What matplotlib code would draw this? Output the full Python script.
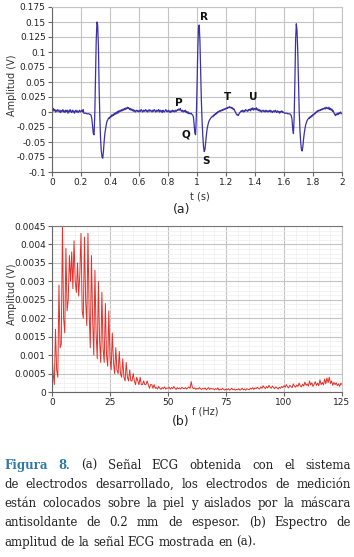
import numpy as np
import matplotlib
matplotlib.use("Agg")
import matplotlib.pyplot as plt
from matplotlib.ticker import MultipleLocator, AutoMinorLocator, FuncFormatter

# ECG signal (a), one value every 5 ms from 0 to 2 s, in mV
ecg_mv = [
    3, 1, 6, 2, 4, 0, 3, 1, 4, 2, 0, 3, -1, 2, 1, 4, 0, 2, -1, 3,
    1, 3, -2, 2, 0, 4, 1, -1, 3, 0, 2, -2, 1, 3, 0, 2, -1, 1, 3, 0,
    1, 3, 0, 4, -2, -2, -2, -2, -3, -3, -3, -3, -4, -4, -6, -12, -25, -36, -38, -5,
    60, 120, 150, 145, 110, 40, -10, -45, -65, -75, -77, -65, -48, -35, -27, -20, -15, -13, -10, -11,
    -8, -9, -5, -7, -4, -6, -2, -4, -1, -3, 1, -2, 2, 0, 3, 1, 4, 2, 5, 3,
    6, 4, 7, 5, 8, 6, 7, 4, 6, 3, 5, 2, 4, 1, 3, 0, 2, 3, 1, 2,
    0, 3, 1, 4, 2, 0, 3, 1, 2, 4, 1, 3, 0, 2, 4, 1, 3, 2, 0, 3,
    1, 4, 2, 0, 3, 1, 2, 4, 0, 3, 1, 2, -1, 3, 1, 0, 2, 4, 1, 2,
    0, 3, 1, -1, 2, 0, 3, 1, 2, 0, 3, 1, 2, 4, 3, 5, 3, 6, 2, 1,
    3, 0, 2, 1, 3, -1, 1, -2, 0, -3, -2, -3, -2, -4, -5, -8, -20, -35, -38, -10,
    40, 100, 140, 145, 120, 70, 20, -15, -40, -58, -66, -62, -50, -38, -28, -22, -17, -14, -12, -10,
    -9, -7, -8, -5, -6, -3, -4, -1, -2, 1, 0, 2, 1, 3, 2, 4, 3, 5, 4, 6,
    5, 7, 6, 8, 7, 9, 7, 8, 6, 7, 4, 5, 2, 0, -3, -5, -4, -6, -3, -1,
    0, 2, 1, 3, 0, 2, 1, 4, 2, 3, 1, 4, 3, 5, 2, 6, 4, 7, 3, 5,
    6, 4, 7, 3, 5, 2, 4, 1, 3, 0, 2, 3, 1, 2, 0, 3, 1, 2, 0, 2,
    1, 3, 0, 2, -1, 1, 2, 0, 3, 1, -1, 2, 0, 1, -2, 1, 0, 2, -1, 0,
    -1, -2, -2, -2, -2, -3, -3, -3, -3, -4, -6, -12, -28, -36, -10, 50, 120, 147, 135, 100,
    50, 0, -30, -50, -62, -65, -58, -45, -35, -27, -21, -17, -14, -12, -10, -11, -8, -9, -6, -7,
    -4, -5, -2, -3, 0, -1, 2, 1, 3, 2, 4, 3, 5, 4, 6, 5, 7, 5, 8, 6,
    7, 5, 8, 4, 6, 3, 5, 1, 2, -2, -4, -6, -3, -5, -2, -4, -1, -3, 0, -2,
    -3,
]

# amplitude spectrum (b), one value every 0.5 Hz from 0 to 125 Hz, in units of 1e-5 V
spec_10uv = [
    110, 50, 20, 170, 60, 40, 290, 120, 130, 450, 200, 160, 390, 220, 250, 370, 300, 380, 280, 410,
    300, 270, 350, 260, 320, 430, 220, 200, 420, 250, 180, 430, 220, 120, 370, 200, 100, 330, 160, 90,
    300, 140, 80, 270, 120, 80, 240, 100, 70, 220, 90, 60, 160, 80, 50, 120, 60, 50, 110, 50,
    40, 90, 40, 30, 80, 40, 30, 60, 30, 30, 50, 30, 20, 40, 30, 20, 40, 20, 20, 30,
    20, 20, 30, 20, 10, 20, 20, 10, 20, 10, 12, 8, 15, 10, 7, 12, 9, 14, 8, 11,
    10, 13, 8, 12, 9, 15, 10, 7, 12, 9, 11, 8, 13, 10, 9, 12, 8, 11, 14, 10,
    28, 12, 9, 11, 7, 10, 8, 12, 9, 7, 10, 8, 11, 6, 9, 12, 7, 10, 8, 9,
    6, 9, 7, 11, 5, 8, 6, 10, 7, 5, 8, 6, 9, 5, 7, 10, 6, 8, 5, 7,
    6, 9, 5, 7, 10, 6, 8, 5, 9, 7, 6, 10, 8, 12, 7, 11, 9, 13, 10, 8,
    14, 10, 17, 12, 9, 15, 11, 18, 13, 10, 16, 12, 9, 14, 11, 8, 13, 10, 15, 12,
    17, 13, 20, 14, 11, 18, 15, 12, 22, 16, 13, 19, 15, 24, 17, 14, 21, 16, 27, 18,
    22, 16, 30, 19, 25, 15, 21, 28, 18, 24, 17, 33, 20, 26, 19, 35, 22, 38, 25, 40,
    23, 30, 18, 26, 20, 25, 17, 22, 15, 24, 20,
]

wave_names = ["P", "Q", "R", "S", "T", "U"]
wave_t = [0.877, 0.92, 1.05, 1.06, 1.21, 1.39]
wave_v = [0.015, -0.037, 0.158, -0.082, 0.025, 0.025]

caption_lines = [
    "Figura 8. (a) Señal ECG obtenida con el sistema",
    "de electrodos desarrollado, los electrodos de medición",
    "están colocados sobre la piel y aislados por la máscara",
    "antisoldante de 0.2 mm de espesor. (b) Espectro de",
    "amplitud de la señal ECG mostrada en (a).",
]

W, H = 354, 557
fig = plt.figure(figsize=(W / 100, H / 100), dpi=100)
fig.patch.set_facecolor("white")

def px(x0, y0, x1, y1):
    return [x0 / W, 1 - y1 / H, (x1 - x0) / W, (y1 - y0) / H]

def fmt(v, pos):
    return "%g" % round(v, 6)

def style_axes(ax, minor):
    ax.tick_params(which="major", direction="out", length=3, width=0.8, color="#666666",
                   labelsize=6.5, pad=1.5, labelcolor="#222222")
    ax.tick_params(which="minor", length=0)
    ax.xaxis.set_major_formatter(FuncFormatter(fmt))
    ax.yaxis.set_major_formatter(FuncFormatter(fmt))
    ax.grid(which="major", color="#c4c4c4", lw=0.8)
    if minor:
        ax.xaxis.set_minor_locator(AutoMinorLocator(5))
        ax.yaxis.set_minor_locator(AutoMinorLocator(4))
        ax.grid(which="minor", color="#efefef", lw=0.5)
    ax.set_axisbelow(True)
    for s in ["left", "bottom"]:
        ax.spines[s].set_color("#666666")
        ax.spines[s].set_linewidth(0.8)
    for s in ["top", "right"]:
        ax.spines[s].set_color("#c4c4c4")
        ax.spines[s].set_linewidth(0.8)

# (a) ECG
ax1 = fig.add_axes(px(52, 7, 342, 172))
ax1.plot(np.linspace(0, 2, len(ecg_mv)), np.array(ecg_mv) / 1000.0, color="#3b31a6", lw=0.9)
ax1.set_xlim(0, 2)
ax1.set_ylim(-0.1, 0.175)
ax1.xaxis.set_major_locator(MultipleLocator(0.2))
ax1.yaxis.set_major_locator(MultipleLocator(0.025))
style_axes(ax1, False)
for name, t, v in zip(wave_names, wave_t, wave_v):
    ax1.text(t, v, name, fontsize=7.5, fontweight="bold", ha="center", va="center", color="#111111")

# (b) spectrum
ax2 = fig.add_axes(px(52, 226, 342, 392))
ax2.plot(np.linspace(0, 125, len(spec_10uv)), np.array(spec_10uv) * 1e-5, color="#e2302a", lw=0.7)
ax2.set_xlim(0, 125)
ax2.set_ylim(0, 0.0045)
ax2.xaxis.set_major_locator(MultipleLocator(25))
ax2.yaxis.set_major_locator(MultipleLocator(0.0005))
style_axes(ax2, True)
ax2.spines["top"].set_color("#777777")

lab = dict(fontsize=7, color="#333333", ha="center", va="center")
fig.text(12 / W, 1 - 85 / H, "Amplitud (V)", rotation=90, **lab)
fig.text(12 / W, 1 - 294 / H, "Amplitud (V)", rotation=90, **lab)
fig.text(200 / W, 1 - 196 / H, "t (s)", **lab)
fig.text(205 / W, 1 - 411 / H, "f (Hz)", **lab)
fig.text(182 / W, 1 - 209 / H, "(a)", fontsize=9, color="#222222", ha="center", va="center")
fig.text(181 / W, 1 - 422 / H, "(b)", fontsize=9, color="#222222", ha="center", va="center")

# justified caption, font size chosen so the second line nearly fills the text width
x_left, x_right = 4 / W, 351 / W
fig.canvas.draw()
renderer = fig.canvas.get_renderer()
probe = fig.text(0, 0, caption_lines[1], family="DejaVu Serif", fontsize=10)
cap_size = 10 * (x_right - x_left) * W / probe.get_window_extent(renderer).width * 0.95
probe.remove()
reg = dict(family="DejaVu Serif", fontsize=cap_size, color="#222222")
bold = dict(family="DejaVu Serif", fontweight="bold", fontsize=cap_size, color="#2f78a8")
baselines = [469, 488, 507, 526, 546]
for i, line in enumerate(caption_lines):
    words = line.split(" ")
    y = 1 - baselines[i] / H
    pieces = []
    for j, w in enumerate(words):
        if i == 0 and j == 0:
            segs = [(w, bold)]
        elif i == 0 and j == 1:
            segs = [("8", bold), (".", reg)]
        else:
            segs = [(w, reg)]
        arts = []
        wsum = 0
        for s, p in segs:
            t = fig.text(0, y, s, va="baseline", ha="left", **p)
            wd = t.get_window_extent(renderer).width / W
            arts.append((t, wd))
            wsum += wd
        pieces.append((arts, wsum))
    total = sum(p[1] for p in pieces)
    if i < len(caption_lines) - 1:
        gap = (x_right - x_left - total) / (len(pieces) - 1)
    else:
        gap = 3.6 / W
    x = x_left
    for arts, wsum in pieces:
        xx = x
        for t, wd in arts:
            t.set_x(xx)
            xx += wd
        x += wsum + gap

fig.savefig("out.png", dpi=100)
